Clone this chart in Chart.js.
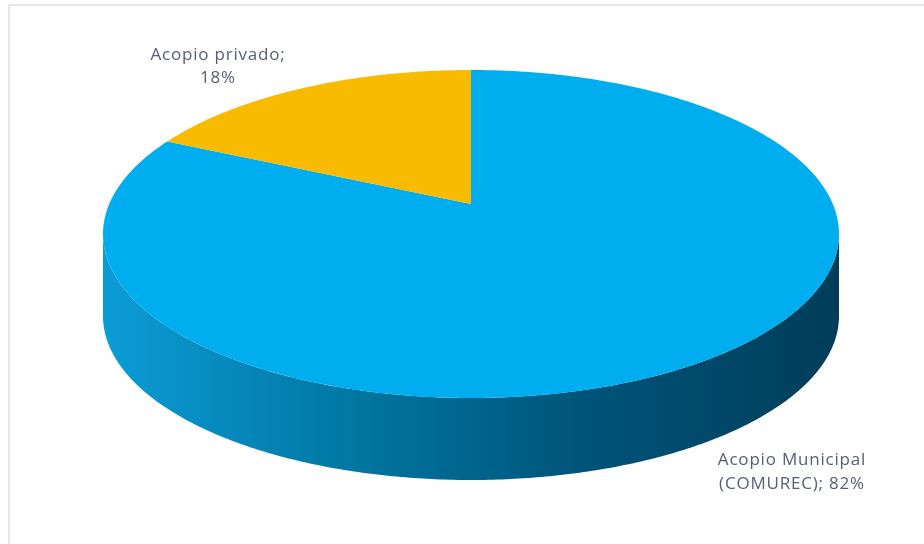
<!DOCTYPE html>
<html>
<head>
<meta charset="utf-8">
<script src="https://cdn.jsdelivr.net/npm/chart.js@4.4.0/dist/chart.umd.min.js"></script>
<style>
  html, body { margin: 0; padding: 0; background: #fff; }
  #marco {
    position: absolute; left: 8px; top: 4px; width: 940px; height: 560px;
    border-top: 2px solid #e2e6ed; border-left: 2px solid #e2e6ed;
  }
  #grafico { position: absolute; left: 0; top: 0; }
</style>
</head>
<body>
<div id="marco"></div>
<canvas id="grafico" width="924" height="544"></canvas>
<script>
// datos del gráfico
const categorias = ['Acopio Municipal (COMUREC)', 'Acopio privado'];
const porcentajes = [82, 18];
const coloresTapa = ['#00aeef', '#f9bb00'];
// texto de las etiquetas, partido en dos líneas
const etiquetas = [
    ['Acopio Municipal', '(COMUREC); ' + porcentajes[0] + '%'],
    ['Acopio privado;', porcentajes[1] + '%']
];

// contorno del disco en pantalla (elipse) y grosor
const CX = 471, CY = 234, RX = 368, RY = 164, ALTO = 82;
// el centro del pastel se ve más arriba por la perspectiva
const SUBE = 30;

// proyección en perspectiva del círculo unitario (u, v) a la pantalla
const pa = RY, pb = -SUBE, pc = -2 * SUBE / (2 * RY);
const pk = RX * Math.abs(pc * pb - pa) / Math.sqrt(pa * pa - pb * pb);
function proyectar(u, v) {
    const w = pc * v + 1;
    return [CX + pk * u / w, CY + (pa * v + pb) / w];
}
// ángulos donde el borde toca la línea media de la elipse
const vBorde = -pb / pa;
const angIzq = Math.asin(vBorde), angDer = Math.PI - angIzq;

function trazarArco(ctx, ini, fin, dy) {
    const pasos = Math.max(2, Math.ceil(Math.abs(fin - ini) / 0.01));
    for (let i = 0; i <= pasos; i++) {
        const t = ini + (fin - ini) * i / pasos;
        const p = proyectar(Math.cos(t), Math.sin(t));
        ctx.lineTo(p[0], p[1] + dy);
    }
}

const pastel3d = {
    id: 'pastel3d',
    beforeDatasetsDraw(chart) {
        const ctx = chart.ctx;
        const arcos = chart.getDatasetMeta(0).data;

        // costado: sólo lo que queda de frente
        const grad = ctx.createLinearGradient(CX - RX, 0, CX + RX, 0);
        grad.addColorStop(0, '#0b9cd6');
        grad.addColorStop(0.38, '#00729c');
        grad.addColorStop(0.65, '#00547a');
        grad.addColorStop(1, '#003d59');
        arcos.forEach(function (arco) {
            const ini = Math.max(arco.startAngle, angIzq);
            const fin = Math.min(arco.endAngle, angDer);
            if (fin <= ini) return;
            ctx.beginPath();
            trazarArco(ctx, ini, fin, 0);
            trazarArco(ctx, fin, ini, ALTO);
            ctx.closePath();
            ctx.fillStyle = grad;
            ctx.fill();
        });

        // tapa: cada porción con los ángulos que calcula la librería
        arcos.forEach(function (arco, i) {
            const c = proyectar(0, 0);
            ctx.beginPath();
            ctx.moveTo(c[0], c[1]);
            trazarArco(ctx, arco.startAngle, arco.endAngle, 0);
            ctx.closePath();
            ctx.fillStyle = arco.options.backgroundColor || coloresTapa[i];
            ctx.fill();
        });
        return false;
    },
    afterDraw(chart) {
        const ctx = chart.ctx;
        ctx.save();
        ctx.fillStyle = '#566074';
        ctx.font = '17px "Open Sans", sans-serif';
        ctx.letterSpacing = '0.8px';
        ctx.textAlign = 'center';
        ctx.textBaseline = 'middle';
        // Acopio Municipal
        ctx.fillText(etiquetas[0][0], 792, 460);
        ctx.fillText(etiquetas[0][1], 792, 484);
        // Acopio privado
        ctx.fillText(etiquetas[1][0], 218, 55);
        ctx.fillText(etiquetas[1][1], 218, 78);
        ctx.restore();
    }
};

new Chart(document.getElementById('grafico'), {
    type: 'pie',
    data: {
        labels: categorias,
        datasets: [{
            data: porcentajes,
            backgroundColor: coloresTapa,
            borderWidth: 0
        }]
    },
    options: {
        responsive: false,
        animation: false,
        layout: { padding: 10 },
        plugins: {
            legend: { display: false },
            tooltip: { enabled: false }
        }
    },
    plugins: [pastel3d]
});
</script>
</body>
</html>
